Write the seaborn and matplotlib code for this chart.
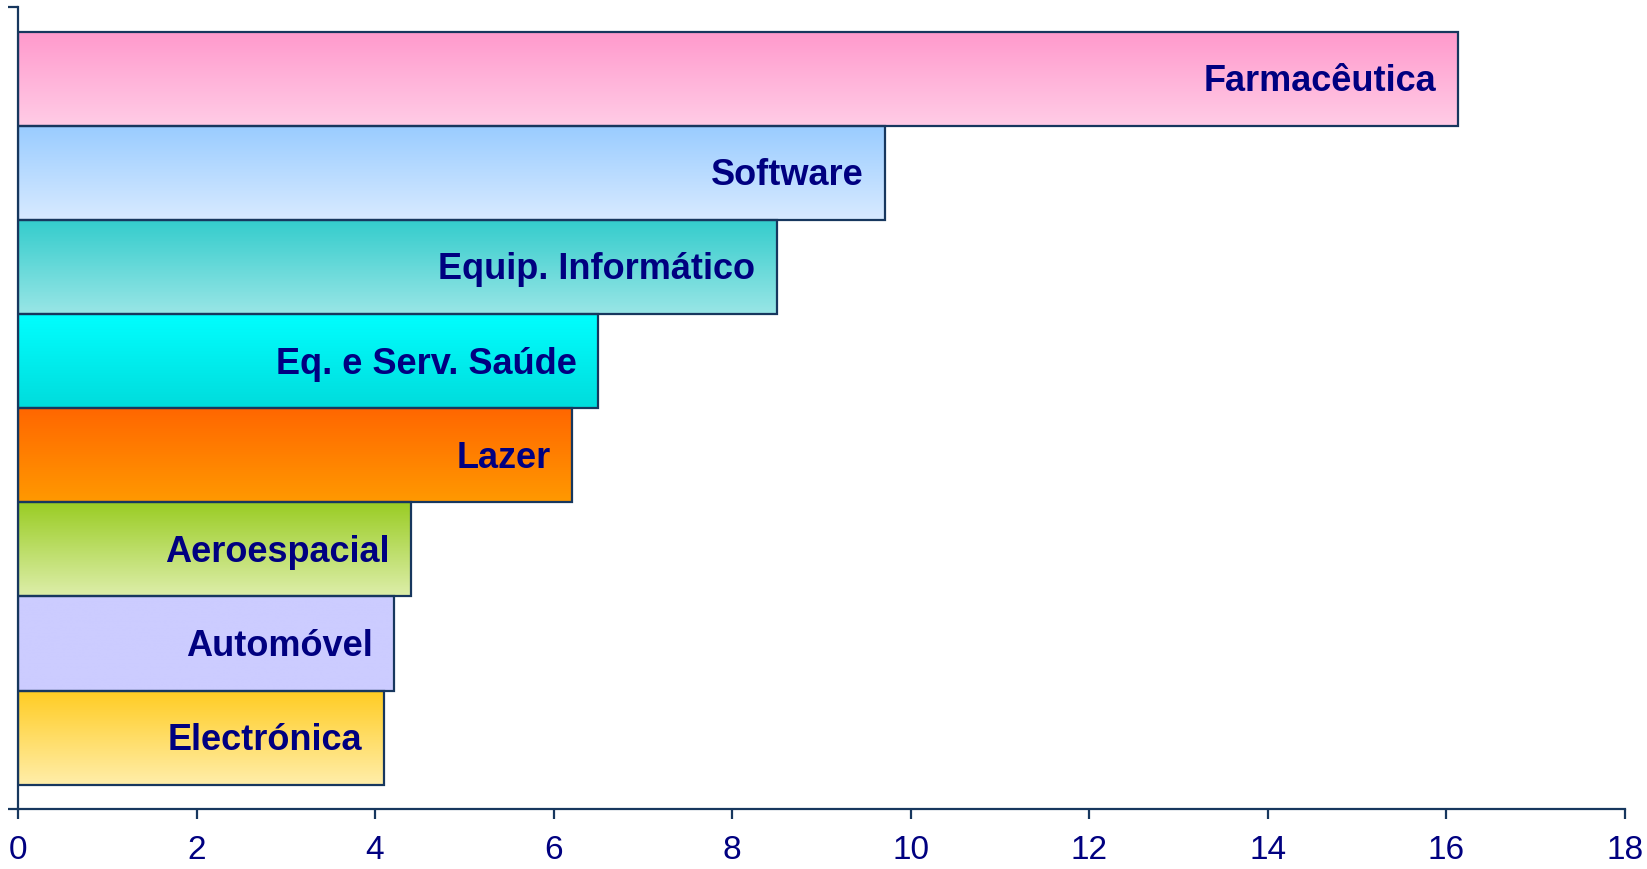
import numpy as np
import pandas as pd
import matplotlib
matplotlib.use('Agg')
import matplotlib.pyplot as plt
from matplotlib.colors import LinearSegmentedColormap
import seaborn as sns

sectors = ['Farmacêutica', 'Software', 'Equip. Informático', 'Eq. e Serv. Saúde',
           'Lazer', 'Aeroespacial', 'Automóvel', 'Electrónica']
values = [16.13, 9.71, 8.5, 6.5, 6.21, 4.4, 4.21, 4.1]
top_colors = ['#FF99CC', '#99CCFF', '#33CCCC', '#00FFFF', '#FF6600', '#99CC22', '#CCCCFF', '#FFCC22']
bottom_colors = ['#FFCCE6', '#D8EAFF', '#99E6E6', '#00DCDC', '#FF9900', '#DDEEAA', '#CCCCFF', '#FFEEAA']
x_ticks = [0, 2, 4, 6, 8, 10, 12, 14, 16, 18]

EDGE = '#17375E'
NAVY = '#000080'

df = pd.DataFrame({'sector': sectors, 'value': values})

sns.set_style('white')
plt.rcParams['font.family'] = ['Liberation Sans', 'DejaVu Sans']

fig = plt.figure(figsize=(16.47, 8.70), dpi=100)
ax = fig.add_axes([0.0109, 0.069, 0.9757, 0.9213])

sns.barplot(data=df, x='value', y='sector', orient='h', width=1.0,
            color='white', edgecolor=EDGE, linewidth=1.6, ax=ax)

# gradient fill clipped to each bar
for patch, c_top, c_bot, label in zip(ax.patches, top_colors, bottom_colors, sectors):
    x0, y0 = patch.get_x(), patch.get_y()
    w, h = patch.get_width(), patch.get_height()
    cmap = LinearSegmentedColormap.from_list('g', [c_top, c_bot])
    grad = np.linspace(0, 1, 256)[:, None]
    im = ax.imshow(grad, cmap=cmap, extent=(x0, x0 + w, y0 + h, y0),
                   aspect='auto', origin='upper', zorder=2)
    im.set_clip_path(patch)
    patch.set_facecolor('none')
    patch.set_zorder(3)
    ax.text(x0 + w - 0.24, y0 + h / 2 + 0.02, label, ha='right', va='center',
            fontsize=26, fontweight='bold', color=NAVY, zorder=4)

pad = 0.258
ax.set_ylim(len(sectors) - 0.5 + pad, -0.5 - pad)
ax.set_xlim(0, 18)
ax.set_xticks(x_ticks)
ax.set_xticklabels([str(t) for t in x_ticks],
                   family=['Liberation Sans Narrow', 'Liberation Sans'])
ax.set_yticks([-0.5 - pad, len(sectors) - 0.5 + pad])
ax.set_yticklabels(['', ''])
ax.set_xlabel('')
ax.set_ylabel('')

for side in ['top', 'right']:
    ax.spines[side].set_visible(False)
for side in ['left', 'bottom']:
    ax.spines[side].set_color(EDGE)
    ax.spines[side].set_linewidth(1.6)

ax.tick_params(axis='x', direction='out', length=7, width=1.6, color=EDGE,
               labelsize=24, labelcolor=NAVY, pad=11, bottom=True)
ax.tick_params(axis='y', direction='out', length=7, width=1.6, color=EDGE, left=True)

fig.savefig('out.png', dpi=100)
